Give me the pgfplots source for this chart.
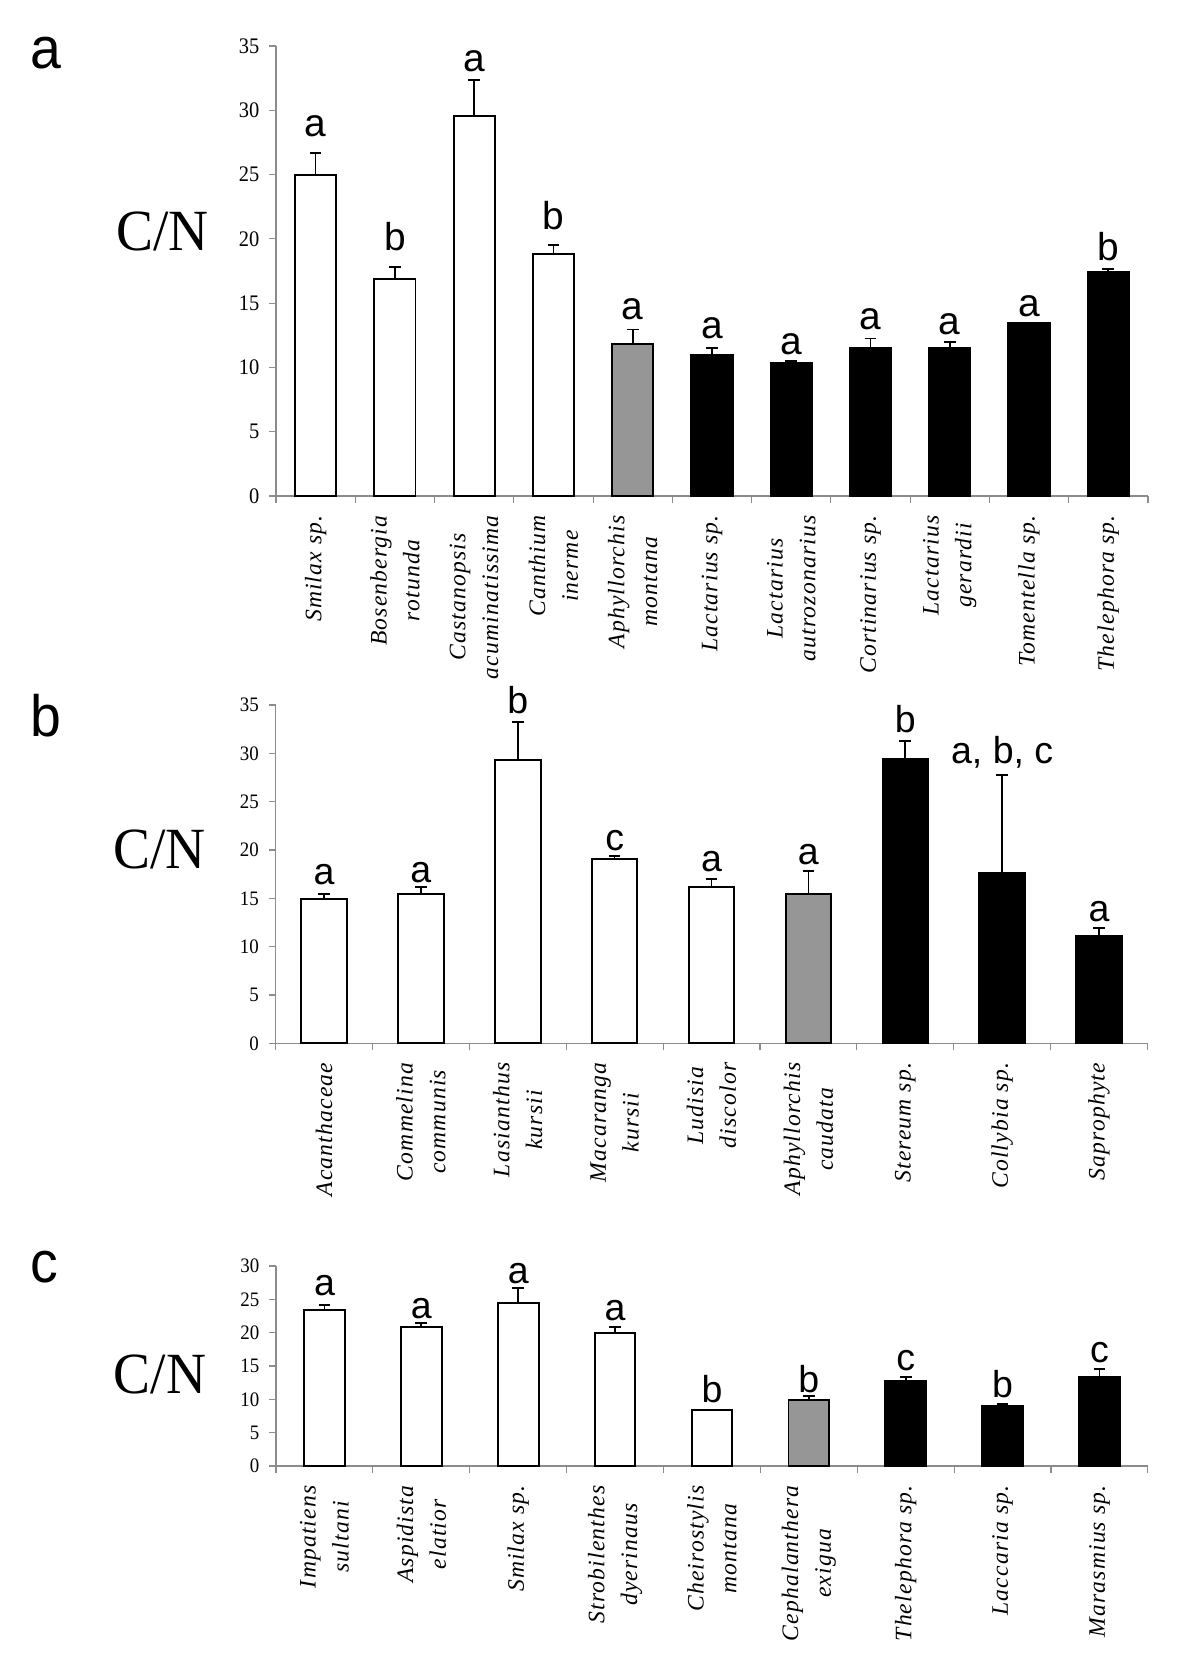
\documentclass[border=0pt]{standalone}
\usepackage{fontspec}
\setmainfont{Liberation Serif}
\newfontfamily\tickfont[FakeStretch=0.92]{Liberation Serif}
\newfontfamily\labfont[LetterSpace=5]{Liberation Serif}
\newfontfamily\sigfont{Liberation Sans}
\newfontfamily\panfont[FakeStretch=0.95]{Liberation Sans}
\newfontfamily\cnfont[FakeStretch=0.95]{Liberation Serif}
\usepackage{pgfplots}
\pgfplotsset{compat=1.18}

\definecolor{axisgray}{RGB}{140,140,140}
\definecolor{bargray}{RGB}{150,150,150}

\pgfplotsset{
  cnpanel/.style={
    scale only axis, width=313.9pt, xmin=0.5, ymin=0, ytick distance=5,
    axis x line*=bottom, axis y line*=left,
    axis line style={draw=axisgray, line width=0.4pt, -},
    tick align=outside, major tick length=2.5pt,
    tick style={draw=axisgray, line width=0.4pt},
    xticklabels={},
    /pgf/number format/assume math mode=true,
    clip=false,
    ylabel=C/N,
    extra x tick style={major tick length=0pt,
      xticklabel style={rotate=90, anchor=east, align=center, inner sep=0pt, outer xsep=7pt,
        font=\labfont\itshape\fontsize{8.5}{11.8}\selectfont}},
  },
  wbar/.style={ybar, bar shift=0pt, fill=white, draw=black, line width=0.7pt,
    /pgfplots/error bars/y dir=plus, /pgfplots/error bars/y explicit,
    /pgfplots/error bars/error bar style={line width=0.6pt, black},
    /pgfplots/error bars/error mark options={rotate=90, black, line width=0.7pt, mark size=2.1pt}},
  gbar/.style={wbar, fill=bargray},
  kbar/.style={wbar, fill=black},
  siglab/.style={draw=none, mark=none, nodes near coords, point meta=explicit symbolic,
    nodes near coords style={anchor=base, inner sep=0pt, font=#1}},
}

\begin{document}
\begin{tikzpicture}
\useasboundingbox (0,0) rectangle (432pt,-602.28pt);

% panel a
\node[font=\panfont\fontsize{21}{21}\selectfont] at (16.5pt,-19.2pt) {a};
\begin{axis}[cnpanel, at={(99.36pt,-178.56pt)}, anchor=south west,
  height=162pt, xmax=11.5, ymax=35, bar width=0.52,
  xtick={0.5,1.5,...,11.5},
  extra x ticks={1,...,11},
  extra x tick labels={Smilax sp., {Bosenbergia\\rotunda}, {Castanopsis\\acuminatissima},
    {Canthium\\inerme}, {Aphyllorchis\\montana}, Lactarius sp., {Lactarius\\autrozonarius},
    Cortinarius sp., {Lactarius\\gerardii}, Tomentella sp., Thelephora sp.},
  yticklabel style={font=\tickfont\fontsize{8}{9}\selectfont},
  ylabel style={rotate=-90, at={(axis description cs:-0.13,0.587)}, anchor=center,
    font=\cnfont\fontsize{21}{21}\selectfont},
]
\addplot[wbar] coordinates {(1,25.0) +- (0,1.7) (2,16.85) +- (0,0.95) (3,29.55) +- (0,2.8) (4,18.8) +- (0,0.7)};
\addplot[gbar] coordinates {(5,11.85) +- (0,1.1)};
\addplot[kbar] coordinates {(6,10.95) +- (0,0.55) (7,10.35) +- (0,0.12) (8,11.55) +- (0,0.7)
  (9,11.55) +- (0,0.45) (10,13.45) +- (0,0) (11,17.45) +- (0,0.22)};
\addplot[siglab={\sigfont\fontsize{14}{14}\selectfont}] coordinates {
  (1,28.0)[a] (2,19.1)[b] (3,33.0)[a] (4,20.7)[b] (5,13.7)[a] (6,12.25)[a]
  (7,11.0)[a] (8,12.95)[a] (9,12.55)[a] (10,14.0)[a] (11,18.3)[b]};
\end{axis}

% panel b
\node[font=\panfont\fontsize{21}{21}\selectfont] at (16.6pt,-257.8pt) {b};
\begin{axis}[cnpanel, at={(99.2pt,-375.6pt)}, anchor=south west,
  height=121.8pt, xmax=9.5, ymax=35, bar width=0.47,
  xtick={0.5,1.5,...,9.5},
  extra x ticks={1,...,9},
  extra x tick labels={Acanthaceae, {Commelina\\communis}, {Lasianthus\\kursii},
    {Macaranga\\kursii}, {Ludisia\\discolor}, {Aphyllorchis\\caudata},
    Stereum sp., Collybia sp., Saprophyte},
  yticklabel style={font=\tickfont\fontsize{7.4}{8}\selectfont},
  ylabel style={rotate=-90, at={(axis description cs:-0.133,0.573)}, anchor=center,
    font=\cnfont\fontsize{21}{21}\selectfont},
]
\addplot[wbar] coordinates {(1,14.95) +- (0,0.5) (2,15.45) +- (0,0.7) (3,29.35) +- (0,3.9)
  (4,19.05) +- (0,0.35) (5,16.2) +- (0,0.85)};
\addplot[gbar] coordinates {(6,15.45) +- (0,2.35)};
\addplot[kbar] coordinates {(7,29.45) +- (0,1.8) (8,17.6) +- (0,10.2) (9,11.1) +- (0,0.85)};
\addplot[siglab={\sigfont\fontsize{13.5}{14}\selectfont}] coordinates {
  (1,16.4)[a] (2,16.6)[a] (3,34.1)[b] (4,19.9)[c] (5,17.75)[a] (6,18.55)[a]
  (7,32.2)[b] (8,28.96)[{a, b, c}] (9,12.6)[a]};
\end{axis}

% panel c
\node[font=\panfont\fontsize{21}{21}\selectfont] at (16.1pt,-456.2pt) {c};
\begin{axis}[cnpanel, at={(99.36pt,-527.76pt)}, anchor=south west,
  height=72pt, xmax=9.5, ymax=30, bar width=0.42,
  xtick={0.5,1.5,...,9.5},
  extra x ticks={1,...,9},
  extra x tick labels={{Impatiens\\sultani}, {Aspidista\\elatior}, Smilax sp.,
    {Strobilenthes\\dyerinaus}, {Cheirostylis\\montana}, {Cephalanthera\\exigua},
    Thelephora sp., Laccaria sp., Marasmius sp.},
  yticklabel style={font=\tickfont\fontsize{7.4}{8}\selectfont},
  ylabel style={rotate=-90, at={(axis description cs:-0.133,0.46)}, anchor=center,
    font=\cnfont\fontsize{21}{21}\selectfont},
]
\addplot[wbar] coordinates {(1,23.4) +- (0,0.7) (2,20.9) +- (0,0.6) (3,24.45) +- (0,2.2)
  (4,19.9) +- (0,0.9) (5,8.4) +- (0,0)};
\addplot[gbar] coordinates {(6,9.85) +- (0,0.65)};
\addplot[kbar] coordinates {(7,12.7) +- (0,0.6) (8,8.95) +- (0,0.4) (9,13.4) +- (0,1.1)};
\addplot[siglab={\sigfont\fontsize{13.5}{14}\selectfont}] coordinates {
  (1,25.6)[a] (2,22.15)[a] (3,27.45)[a] (4,21.8)[a] (5,9.5)[b] (6,11.0)[b]
  (7,14.4)[c] (8,10.35)[b] (9,15.5)[c]};
\end{axis}
\end{tikzpicture}
\end{document}
